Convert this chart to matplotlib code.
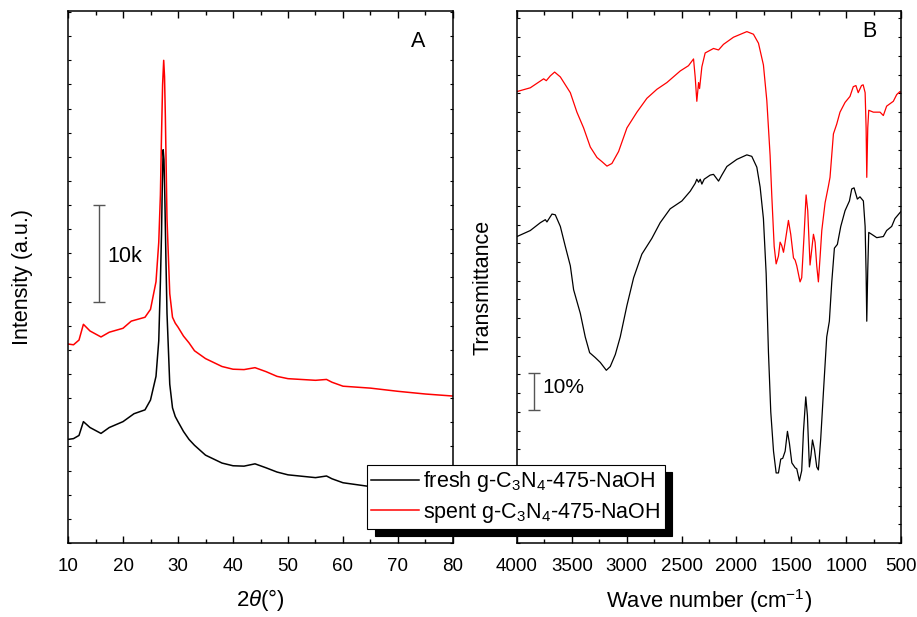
import matplotlib
matplotlib.use("Agg")
import matplotlib.pyplot as plt
from matplotlib.ticker import MultipleLocator, NullFormatter

plt.rcParams['font.family'] = ['Liberation Sans', 'DejaVu Sans']
plt.rcParams['mathtext.fontset'] = 'custom'
plt.rcParams['mathtext.rm'] = 'Liberation Sans'
plt.rcParams['mathtext.it'] = 'Liberation Sans:italic'
plt.rcParams['mathtext.default'] = 'regular'

# ---------------- XRD data (panel A), intensity in k counts ----------------
xrd_fresh_2theta = [10, 11, 12, 12.8, 14, 16, 17.5, 20, 22, 24, 25, 26, 26.5, 26.8, 27, 27.15,
                    27.3, 27.45, 27.6, 27.8, 28, 28.5, 29, 29.5, 30, 31, 32, 33, 35, 38, 40, 42,
                    44, 46, 48, 50, 55, 57, 58, 60, 65, 70, 75, 80]
xrd_fresh_int = [10.73, 10.81, 11.14, 12.57, 11.96, 11.35, 11.96, 12.57, 13.39, 13.79, 14.81,
                 17.26, 20.94, 27.06, 31.96, 37.26, 40.73, 39.7, 36.04, 29.5, 23.79, 16.45,
                 14.00, 13.1, 12.57, 11.55, 10.73, 10.12, 9.10, 8.28, 8.00, 7.96, 8.20, 7.79,
                 7.35, 7.06, 6.77, 6.94, 6.65, 6.24, 5.84, 5.43, 5.31, 5.18]

xrd_spent_2theta = [10, 11, 12, 12.8, 14, 16, 17.5, 20, 21.5, 24, 25, 26, 26.5, 26.8, 27, 27.2,
                    27.4, 27.55, 27.7, 28, 28.5, 29, 29.5, 30, 31, 32, 33, 35, 38, 40, 42, 44,
                    46, 48, 50, 55, 57, 58, 60, 65, 70, 75, 80]
xrd_spent_int = [20.61, 20.53, 21.02, 22.65, 21.96, 21.34, 21.83, 22.24, 22.98, 23.38, 24.20,
                 27.06, 31.14, 36.04, 42.16, 47.46, 49.99, 48.28, 44.20, 33.59, 25.83, 23.38,
                 22.77, 22.36, 21.43, 20.73, 19.91, 19.10, 18.28, 18.00, 17.96, 18.16, 17.75,
                 17.26, 17.02, 16.85, 16.94, 16.65, 16.24, 16.04, 15.71, 15.43, 15.22]

# ---------------- FTIR data (panel B), transmittance in % (offset) ----------------
ftir_spent_wn = [4000, 3879, 3757, 3733, 3696, 3657, 3605, 3514, 3454, 3393, 3332, 3271, 3226,
                 3180, 3135, 3074, 2998, 2907, 2816, 2725, 2634, 2512, 2437, 2391, 2376, 2361,
                 2345, 2336, 2315, 2285, 2209, 2163, 2118, 2027, 1905, 1845, 1799, 1754, 1723,
                 1693, 1678, 1656, 1638, 1617, 1602, 1587, 1571, 1556, 1526, 1505, 1480, 1465,
                 1450, 1420, 1405, 1383, 1365, 1350, 1329, 1314, 1298, 1283, 1268, 1253, 1238,
                 1222, 1192, 1162, 1147, 1116, 1086, 1056, 1010, 965, 935, 911, 890, 860, 845,
                 827, 818, 812, 803, 794, 752, 691, 661, 631, 570, 539, 509, 500]
ftir_spent_t = [120.5, 121.5, 123.9, 123.4, 124.7, 125.7, 124.4, 120.2, 115.0, 110.8, 105.7,
                102.9, 101.8, 100.6, 101.3, 104.5, 110.8, 115.0, 118.7, 121.1, 122.9, 126.0,
                127.4, 129.2, 124.4, 117.9, 122.9, 121.3, 127.1, 130.8, 132.0, 131.6, 133.1,
                135.0, 136.5, 135.8, 133.4, 127.6, 118.1, 103.4, 92.9, 79.2, 74.5, 76.6, 80.3,
                79.4, 77.6, 80.3, 86.1, 82.4, 76.1, 75.5, 74.0, 69.7, 70.8, 82.4, 92.9, 88.7,
                74.2, 78.2, 82.4, 80.3, 74.0, 69.7, 76.1, 83.4, 90.8, 95.2, 97.6, 109.2, 111.8,
                115.0, 117.6, 119.2, 121.8, 122.1, 120.2, 122.1, 122.3, 120.2, 110.8, 97.6,
                110.8, 115.5, 115.0, 115.0, 114.1, 116.6, 117.9, 119.7, 120.5, 120.2]

ftir_fresh_wn = [4000, 3879, 3787, 3742, 3727, 3681, 3651, 3605, 3560, 3514, 3484, 3423, 3378,
                 3338, 3287, 3241, 3186, 3150, 3104, 3059, 2998, 2937, 2862, 2771, 2695, 2604,
                 2497, 2421, 2376, 2361, 2345, 2330, 2315, 2294, 2239, 2209, 2163, 2133, 2087,
                 1996, 1905, 1860, 1814, 1784, 1754, 1729, 1708, 1687, 1662, 1638, 1617, 1596,
                 1578, 1556, 1535, 1517, 1495, 1465, 1450, 1426, 1405, 1389, 1368, 1353, 1335,
                 1320, 1307, 1289, 1268, 1253, 1232, 1207, 1177, 1153, 1131, 1107, 1080, 1049,
                 1010, 970, 949, 928, 898, 874, 843, 827, 818, 812, 803, 794, 767, 721, 661,
                 631, 585, 555, 509, 500]
ftir_fresh_t = [81.8, 83.4, 85.5, 86.3, 85.7, 87.8, 87.6, 84.5, 79.2, 74.0, 67.6, 61.3, 55.0,
                50.8, 49.5, 48.2, 46.1, 47.1, 50.3, 55.0, 63.4, 70.8, 77.1, 81.3, 85.5, 89.2,
                91.3, 93.9, 96.0, 97.1, 96.3, 97.1, 95.8, 97.1, 98.2, 98.4, 96.6, 98.2, 100.5,
                102.4, 103.6, 103.2, 100.3, 95.0, 86.6, 71.9, 50.8, 35.0, 24.5, 18.7, 18.7,
                22.4, 22.6, 24.5, 29.8, 26.6, 21.4, 20.1, 19.8, 16.6, 19.3, 29.8, 39.0, 34.0,
                20.3, 23.5, 27.5, 25.0, 20.3, 19.5, 27.7, 40.3, 55.0, 59.2, 69.7, 78.7, 79.7,
                84.5, 88.7, 91.3, 94.5, 94.8, 91.8, 92.4, 91.3, 84.5, 71.9, 59.2, 72.9, 82.9,
                82.4, 81.5, 81.8, 83.4, 84.5, 86.6, 88.2, 88.5]

legend_labels = ['fresh g-C$_3$N$_4$-475-NaOH', 'spent g-C$_3$N$_4$-475-NaOH']

W, H = 917, 617
fig = plt.figure(figsize=(W / 100, H / 100), dpi=100)
axA = fig.add_axes([68 / W, 1 - 543 / H, 385 / W, 532 / H])
axB = fig.add_axes([517 / W, 1 - 543 / H, 384 / W, 532 / H])

lf, = axA.plot(xrd_fresh_2theta, xrd_fresh_int, color='black', lw=1.1)
ls, = axA.plot(xrd_spent_2theta, xrd_spent_int, color='red', lw=1.1)
axA.set_xlim(10, 80)
axA.set_ylim(0, 55.1)
axA.xaxis.set_major_locator(MultipleLocator(10))
axA.xaxis.set_minor_locator(MultipleLocator(5))
axA.yaxis.set_major_locator(MultipleLocator(2.5))
axA.yaxis.set_major_formatter(NullFormatter())

axB.plot(ftir_fresh_wn, ftir_fresh_t, color='black', lw=0.9)
axB.plot(ftir_spent_wn, ftir_spent_t, color='red', lw=0.9)
axB.set_xlim(4000, 500)
axB.set_ylim(0, 142)
axB.xaxis.set_major_locator(MultipleLocator(500))
axB.xaxis.set_minor_locator(MultipleLocator(250))
axB.yaxis.set_major_locator(MultipleLocator(5))
axB.yaxis.set_major_formatter(NullFormatter())

for ax in (axA, axB):
    for sp in ax.spines.values():
        sp.set_linewidth(1.1)
    ax.tick_params(axis='x', which='major', direction='in', length=5, width=1.0,
                   top=True, labelsize=13.5, pad=11)
    ax.tick_params(axis='x', which='minor', direction='in', length=3, width=1.0, top=True)
    ax.tick_params(axis='y', which='major', direction='in', length=2.5, width=0.8,
                   right=True)

axA.set_xlabel(r'2$\mathit{\theta}$(°)', fontsize=16)
axA.set_ylabel('Intensity (a.u.)', fontsize=15.5)
axA.xaxis.set_label_coords(0.5, -0.082)
axA.yaxis.set_label_coords(-0.091, 0.5)
axB.set_xlabel('Wave number (cm$^{-1}$)', fontsize=15.8)
axB.set_ylabel('Transmittance', fontsize=15.5)
axB.xaxis.set_label_coords(0.5, -0.082)
axB.yaxis.set_label_coords(-0.06, 0.48)

axA.text(73.6, 51.9, 'A', fontsize=15.5, ha='center', va='center')
axB.text(792, 136.4, 'B', fontsize=15.5, ha='center', va='center')

# scale bars
axA.errorbar([15.6], [30], yerr=[[5], [5]], color='#555555', capsize=4, lw=1.0, capthick=1.0)
axA.text(17.2, 29.7, '10k', fontsize=15.5, va='center', ha='left')
axB.errorbar([3848], [40.5], yerr=[[5], [5]], color='#555555', capsize=4, lw=1.0, capthick=1.0)
axB.text(3770, 41.5, '10%', fontsize=15, va='center', ha='left')

leg = fig.legend([lf, ls], legend_labels, loc='upper left',
                 bbox_to_anchor=(367 / W, 1 - 465 / H), borderaxespad=0,
                 fontsize=15.5, frameon=True, fancybox=False, edgecolor='black',
                 framealpha=1, borderpad=0.2, labelspacing=0.3, handlelength=2.2,
                 handletextpad=0.2,
                 shadow={'color': 'black', 'alpha': 1, 'ox': 5.5, 'oy': -5})
leg.get_frame().set_linewidth(0.8)

fig.savefig('out.png', dpi=100)
